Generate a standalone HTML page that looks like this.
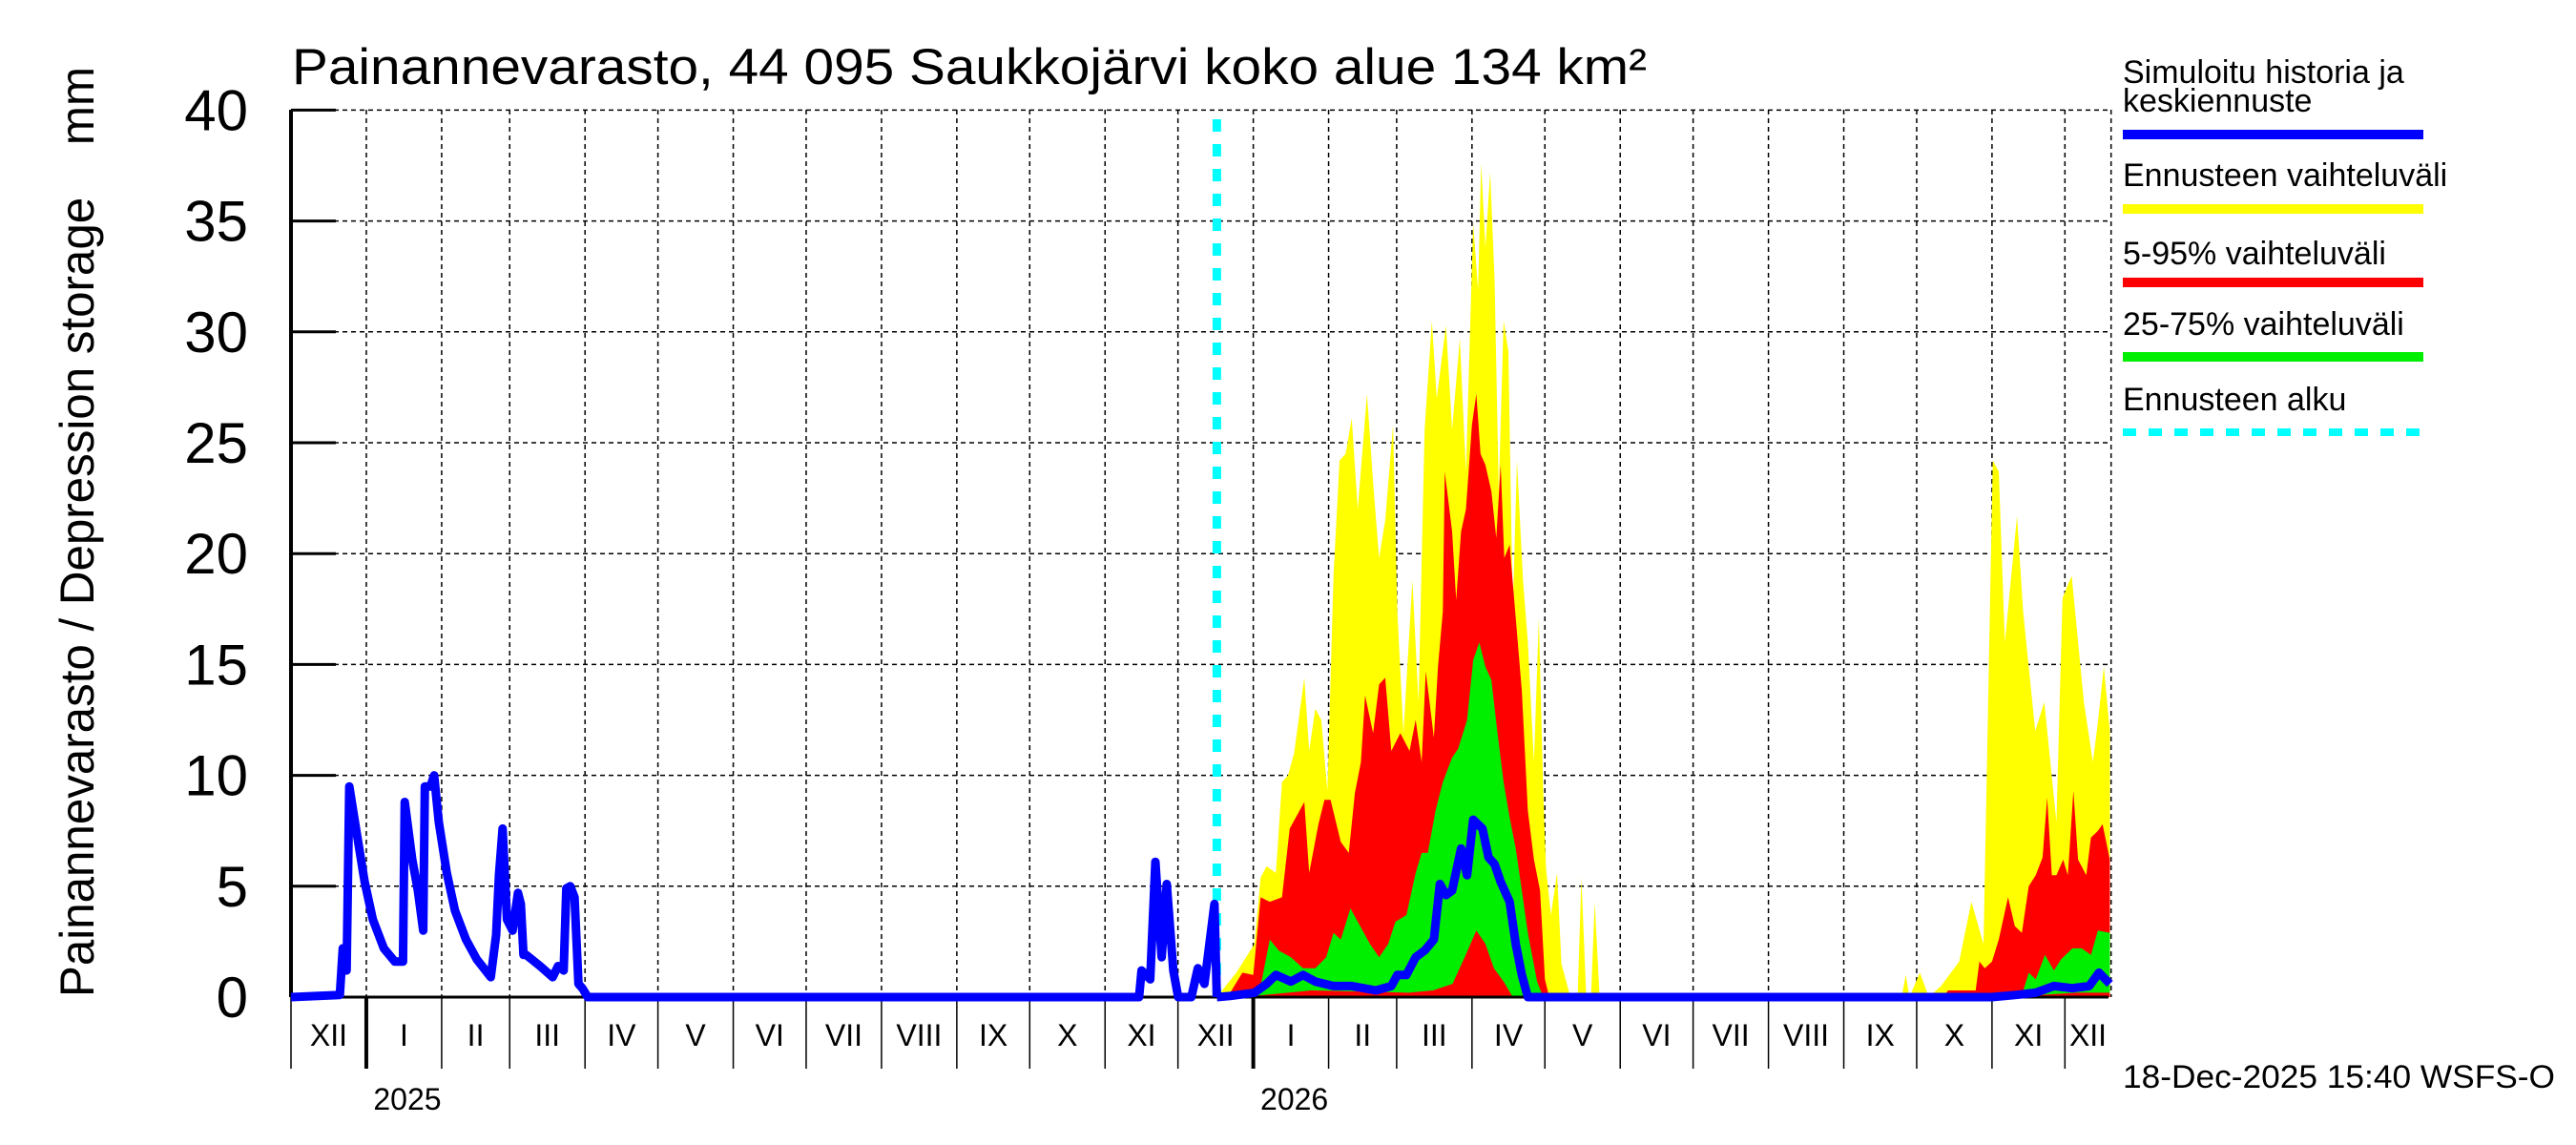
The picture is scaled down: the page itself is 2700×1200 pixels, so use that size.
<!DOCTYPE html>
<html><head><meta charset="utf-8">
<style>
html,body{margin:0;padding:0;background:#fff;}
svg{display:block;font-family:"Liberation Sans",sans-serif;}
</style></head>
<body>
<svg id="chart" xmlns="http://www.w3.org/2000/svg" width="2700" height="1200" viewBox="0 0 2700 1200">
<rect x="0" y="0" width="2700" height="1200" fill="#fff"/>
<text x="306" y="88" font-size="53" textLength="1420" lengthAdjust="spacingAndGlyphs">Painannevarasto, 44 095 Saukkojärvi koko alue 134 km²</text>
<text transform="translate(98,1045) rotate(-90)" font-size="50" textLength="975" lengthAdjust="spacingAndGlyphs" style="white-space:pre" xml:space="preserve">Painannevarasto / Depression storage    mm</text>
<g id="grid"></g>
<g id="bands"></g>
<g id="axes"></g>
<g id="lines"></g>
<g id="legend">
<text x="2225" y="87" font-size="34">Simuloitu historia ja</text>
<text x="2225" y="117" font-size="34">keskiennuste</text>
<rect x="2225" y="136" width="315" height="10" fill="#0000ff"/>
<text x="2225" y="195" font-size="34">Ennusteen vaihteluväli</text>
<rect x="2225" y="214" width="315" height="10" fill="#ffff00"/>
<text x="2225" y="277" font-size="34">5-95% vaihteluväli</text>
<rect x="2225" y="291" width="315" height="10" fill="#ff0000"/>
<text x="2225" y="351" font-size="34">25-75% vaihteluväli</text>
<rect x="2225" y="369" width="315" height="10" fill="#00ee00"/>
<text x="2225" y="430" font-size="34">Ennusteen alku</text>
<line x1="2225" y1="453" x2="2540" y2="453" stroke="#00ffff" stroke-width="8" stroke-dasharray="14,13"/>
</g>
<text x="2225" y="1140" font-size="34" textLength="453" lengthAdjust="spacingAndGlyphs">18-Dec-2025 15:40 WSFS-O</text>
</svg>
<script>
// ---- data (days since 1 Dec 2024) ----
const yTicks = [0,5,10,15,20,25,30,35,40];
const monthLabels = ["XII","I","II","III","IV","V","VI","VII","VIII","IX","X","XI","XII","I","II","III","IV","V","VI","VII","VIII","IX","X","XI","XII"];
const monthStarts = [0,31,62,90,121,151,182,212,243,274,304,335,365,396,427,455,486,516,547,577,608,639,669,700,730,749];
const yearLabels = ["2025","2026"];
const yearDays = [31,396];
const forecastStartDay = 381;

const histDays = [0,20.1,21.3,22.9,24.0,26.9,30.3,33.7,38.2,42.7,46.1,46.8,49.9,52.2,54.4,55.1,57.4,58.9,60.8,64.1,67.5,72.0,76.5,82.2,84.4,85.6,87.1,88.9,91.2,93.4,94.6,95.7,96.8,102.5,107.7,109.9,112.2,113.3,114.9,116.7,118.3,119.9,122.1,349,350,353.6,355.7,358.3,360.4,363.1,365.1,370.5,373.2,375.9,380,381];
const histVals = [0,0.1,2.2,1.2,9.5,7.5,5.2,3.5,2.2,1.6,1.6,8.8,6.2,4.8,3.0,9.5,9.5,10.0,7.9,5.6,3.9,2.6,1.7,0.9,2.8,5.5,7.6,3.5,3.0,4.7,4.2,1.9,1.9,1.4,0.9,1.4,1.2,4.9,5.0,4.5,0.6,0.4,0,0,1.2,0.8,6.1,1.8,5.1,1.2,0,0,1.3,0.6,4.2,0];

const medDays = [381,386.5,396.5,401.5,405.3,411.5,416.5,421.5,429,436.5,446.5,452.8,455.3,459,462.8,466.5,470.3,472.8,475.3,477.8,481.5,484,486.5,490.3,492.8,495.3,497.8,501.5,504,506.5,509,700,710,718,725.5,733,740,744,748.5];
const medVals = [0,0.05,0.2,0.6,1.0,0.7,1.0,0.7,0.5,0.5,0.3,0.5,1.0,1.0,1.8,2.1,2.6,5.1,4.6,4.8,6.7,5.5,8.0,7.6,6.3,6.0,5.2,4.3,2.4,1.0,0,0,0.1,0.2,0.5,0.4,0.5,1.1,0.6];

const maxDays = [381,389,396.5,399,401.5,405.3,407.8,410.3,412.8,417,419,421.5,424,426.5,429,431.5,434,436.5,439,442.8,445.3,447.8,450.3,453.5,455.3,457.8,461.5,464,466.5,469.5,471.5,475.3,477.8,481,483.5,486.5,488.5,489.8,491.5,493.5,495.3,497,499,501,502.8,504.5,507,509,511.5,513.5,515.3,516.5,518.5,521,522.8,526.5,529.5,531,533,535,536.5,538.5,662.8,664.5,666,670.3,674,679,686.5,691.5,696.5,700.3,702.8,705.3,710.3,712.8,717.8,721.5,726.5,729,732.8,737.8,741.5,743.6,746,748.5];
const maxVals = [0,1.1,2.4,5.4,5.9,5.6,9.7,10,11,14.4,11.1,13,12.5,9.3,19,24.2,24.5,26.1,22,27.2,23.2,19.8,21.5,25.8,17.4,11.9,18.8,13.3,25.6,30.5,27,30.3,25.6,29.7,23.7,34.9,31.9,37.6,33.8,37.2,32.4,22.8,30.5,29.1,17.4,24.2,18.8,16,10.6,17.1,9.3,5.8,3.7,5.6,1.5,0,0,5.4,0,0,4.3,0,0,1,0,1.1,0,0.5,1.6,4.3,2.4,24.2,23.7,16,21.7,17.4,12,13.3,7.9,18,19,13.3,10.6,12.4,14.9,12];

const p95Days = [381,386.5,391.5,396,399,402.8,407.8,411,414,417,419,422.8,425.3,427.8,432,435.3,437.8,440.3,442,445.3,447.8,450.3,452.8,456.5,460.3,462.8,465.3,467,470.3,472,474,474.8,477.8,479.5,481.5,483.5,486,487.8,489.5,491.5,494,496,497.8,499.3,501.5,504,506.5,509,511.5,514,516,517.8,680,681.9,693.3,694.8,697,700,702.8,706.6,709.4,712.3,715.1,718,720.8,722.7,724.6,726.5,729.3,731.2,733.5,735.4,738.8,740.7,743.6,745.5,748.5];
const p95Vals = [0,0.2,1.1,1.0,4.5,4.3,4.5,7.6,8.2,8.8,5.6,7.8,8.9,8.9,7.0,6.5,9.2,10.6,13.6,11.9,14.1,14.4,11.1,11.9,11.1,12.5,10.6,14.7,11.7,14.9,17.4,23.7,21,17.9,21,22,25.8,27.2,24.5,24,22.8,20.7,24,19.8,20.4,17.1,13.8,8.4,6.2,4.8,0.8,0,0,0.3,0.3,1.6,1.3,1.6,2.6,4.5,3.2,2.9,5,5.5,6.3,9,5.5,5.5,6.2,5.5,9.3,6.2,5.5,7.2,7.5,7.8,6.2];

const p75Days = [381,391.5,399,402.8,406.5,411.5,416.5,421.5,426,429,432,436,439,444,447.8,451.5,454.5,459,462.8,465.3,467.8,471,474,477.8,480.3,484,486.5,489,491.5,494,496.5,499,501.5,504,506.5,509,512.8,515.3,710.4,712.3,715.1,718,721.8,725.5,728.4,733.1,736.9,740.7,743.6,748.5];
const p75Vals = [0,0.2,0.5,2.6,2.1,1.8,1.3,1.3,1.8,2.9,2.6,4.0,3.4,2.4,1.8,2.4,3.4,3.7,5.6,6.5,6.5,8.4,9.7,10.8,11.2,12.5,15.2,16,14.9,14.3,11.9,9.7,8.1,6.7,4.8,2.9,0.7,0,0,0.1,1.1,0.8,1.9,1.2,1.7,2.2,2.2,1.9,3.0,2.9];
const p25Days = [381,391.5,420,460,470,478,483,487.8,491.5,495,499,502.8,515.3,710.4,720,735,748.5];
const p25Vals = [0,0,0.3,0.2,0.3,0.6,1.8,3.0,2.4,1.3,0.7,0,0,0,0.1,0.2,0.2];

// ---- axis functions ----
const X0 = 305, PXD = 2.547, Y0 = 1045, PXV = 23.24, XEND = 2210, YTOP = 115;
function xs(d){ return X0 + d*PXD; }
function ys(v){ return Y0 - v*PXV; }
const NS = "http://www.w3.org/2000/svg";
function mk(tag, attrs, parent){ const e = document.createElementNS(NS, tag); for (const k in attrs) e.setAttribute(k, attrs[k]); parent.appendChild(e); return e; }

const grid = document.getElementById('grid');
const axes = document.getElementById('axes');
const bands = document.getElementById('bands');
const lines = document.getElementById('lines');

yTicks.forEach(v => {
  if (v > 0) {
    const g = mk('line', {x1:X0, y1:ys(v), x2:XEND, y2:ys(v), stroke:'#000', 'stroke-width':1.5, 'stroke-dasharray':'5,4'}, grid);
    
    
  }
  const t = mk('line', {x1:X0, y1:ys(v), x2:352, y2:ys(v), stroke:'#000', 'stroke-width':3}, axes);
  
  
  const lb = mk('text', {x:260, y:ys(v)+21, 'font-size':60, 'text-anchor':'end'}, axes);
  lb.textContent = v;
  
  
});
monthStarts.forEach((d, i) => {
  const x = xs(d);
  if (i > 0) {
    const g = mk('line', {x1:x, y1:YTOP, x2:x, y2:Y0, stroke:'#000', 'stroke-width':1.5, 'stroke-dasharray':'5,4'}, grid);
    
    
  }
  if (i < monthStarts.length - 1) {
    const isYear = yearDays.indexOf(d) >= 0;
    const t = mk('line', {x1:x, y1:Y0, x2:x, y2:1120, stroke:'#000', 'stroke-width': isYear ? 4 : 1.5}, axes);
    
    
    const lb = mk('text', {x:(x + xs(monthStarts[i+1]))/2, y:1096, 'font-size':32, 'text-anchor':'middle'}, axes);
    lb.textContent = monthLabels[i];
    
    
  }
});
yearLabels.forEach((s, i) => {
  const lb = mk('text', {x:xs(yearDays[i]) + 43, y:1163, 'font-size':32, 'text-anchor':'middle'}, axes);
  lb.textContent = s;
  
  
});
const ax1 = mk('line', {x1:X0, y1:YTOP, x2:X0, y2:Y0, stroke:'#000', 'stroke-width':4}, axes);


const ax2 = mk('line', {x1:X0, y1:Y0, x2:XEND, y2:Y0, stroke:'#000', 'stroke-width':3}, axes);



function pts(days, vals){ return days.map((d,i) => xs(d).toFixed(1) + ',' + ys(vals[i]).toFixed(1)); }
function area(days, vals, color, name){
  const p = pts(days, vals);
  p.push(xs(days[days.length-1]).toFixed(1) + ',' + ys(0));
  p.unshift(xs(days[0]).toFixed(1) + ',' + ys(0));
  const e = mk('polygon', {points:p.join(' '), fill:color}, bands);
  
  
}
area(maxDays, maxVals, '#ffff00', 'band-min-max');
area(p95Days, p95Vals, '#ff0000', 'band-5-95');
const up = pts(p75Days, p75Vals), lo = pts(p25Days, p25Vals).reverse();
const gp = mk('polygon', {points: up.concat(lo).join(' '), fill:'#00ee00'}, bands);



const fc = mk('line', {x1:xs(forecastStartDay), y1:YTOP+10, x2:xs(forecastStartDay), y2:Y0, stroke:'#00ffff', 'stroke-width':9, 'stroke-dasharray':'13,13'}, lines);



const hl = mk('polyline', {points:pts(histDays, histVals).join(' '), fill:'none', stroke:'#0000ff', 'stroke-width':9, 'stroke-linejoin':'round'}, lines);


const zl = mk('line', {x1:xs(histDays[histDays.length-1]), y1:ys(0), x2:xs(medDays[0]), y2:ys(0), stroke:'#0000ff', 'stroke-width':9}, lines);


const ml = mk('polyline', {points:pts(medDays, medVals).join(' '), fill:'none', stroke:'#0000ff', 'stroke-width':9, 'stroke-linejoin':'round'}, lines);


</script>
</body></html>
